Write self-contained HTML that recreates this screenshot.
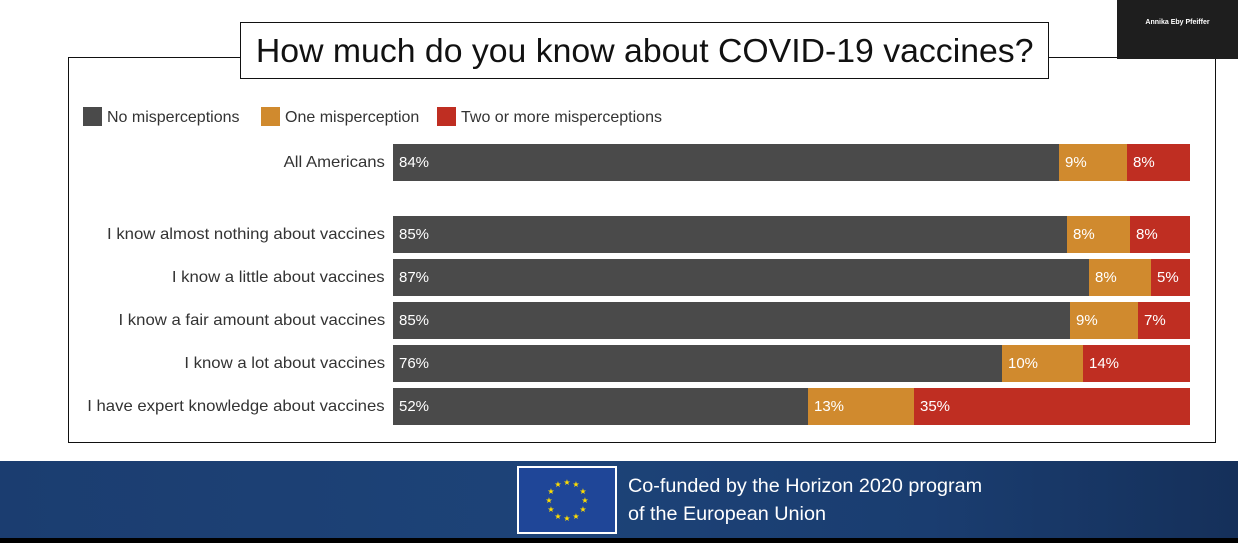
<!DOCTYPE html>
<html><head><style>
body{margin:0;width:1238px;height:543px;background:#fff;position:relative;overflow:hidden;font-family:"Liberation Sans",sans-serif}
.abs{position:absolute}
.frame{left:68px;top:57px;width:1148px;height:386px;border:1.5px solid #111;box-sizing:border-box}
.title{left:240px;top:22px;width:809px;height:57px;border:1.5px solid #111;background:#fff;box-sizing:border-box;font-size:33px;line-height:55px;text-align:center;color:#111}
.title span{display:inline-block;transform:scaleX(1.024)}
.cam{left:1117px;top:0;width:121px;height:59px;background:#1e1e1e;color:#fff;font-size:7px;font-weight:bold;text-align:center;line-height:46px}
.leg{top:107px;font-size:16px;color:#333;line-height:20px}
.sw{display:inline-block;width:19px;height:19px;vertical-align:-4px;margin-right:5px}
.lab{right:853px;font-size:16px;color:#333;text-align:right;white-space:nowrap;line-height:20px;transform:scaleX(1.045);transform-origin:right center}
.seg{height:37px;color:#fff;font-size:15px;line-height:37px;padding-left:6px;box-sizing:border-box}
.d{background:#4a4a4a}.o{background:#d08a2e}.r{background:#bf2e22}
.banner{left:0;top:461px;width:1238px;height:78px;background:linear-gradient(90deg,#1b3d70 0%,#1d4378 45%,#1a3d70 75%,#15305a 100%)}
.bot{left:0;top:538px;width:1238px;height:5px;background:#000}
.flag{left:517px;top:466px;width:100px;height:68px;border:2px solid #fff;background:#1f4698;box-sizing:border-box}
.ft{left:628px;top:472px;color:#fff;font-size:19.8px;line-height:28px}
</style></head><body>
<div class="abs frame"></div>
<div class="abs title"><span>How much do you know about COVID-19 vaccines?</span></div>
<div class="abs cam">Annika Eby Pfeiffer</div>
<div class="abs leg" style="left:83px"><span class="sw d"></span>No misperceptions</div>
<div class="abs leg" style="left:261px"><span class="sw o"></span>One misperception</div>
<div class="abs leg" style="left:437px"><span class="sw r"></span>Two or more misperceptions</div>

<div class="abs lab" style="top:153px">All Americans</div>
<div class="abs lab" style="top:225px">I know almost nothing about vaccines</div>
<div class="abs lab" style="top:268px">I know a little about vaccines</div>
<div class="abs lab" style="top:311px">I know a fair amount about vaccines</div>
<div class="abs lab" style="top:354px">I know a lot about vaccines</div>
<div class="abs lab" style="top:397px">I have expert knowledge about vaccines</div>

<div class="abs seg d" style="left:393px;top:144px;width:666px">84%</div><div class="abs seg o" style="left:1059px;top:144px;width:68px">9%</div><div class="abs seg r" style="left:1127px;top:144px;width:63px">8%</div>
<div class="abs seg d" style="left:393px;top:216px;width:674px">85%</div><div class="abs seg o" style="left:1067px;top:216px;width:63px">8%</div><div class="abs seg r" style="left:1130px;top:216px;width:60px">8%</div>
<div class="abs seg d" style="left:393px;top:259px;width:696px">87%</div><div class="abs seg o" style="left:1089px;top:259px;width:62px">8%</div><div class="abs seg r" style="left:1151px;top:259px;width:39px">5%</div>
<div class="abs seg d" style="left:393px;top:302px;width:677px">85%</div><div class="abs seg o" style="left:1070px;top:302px;width:68px">9%</div><div class="abs seg r" style="left:1138px;top:302px;width:52px">7%</div>
<div class="abs seg d" style="left:393px;top:345px;width:609px">76%</div><div class="abs seg o" style="left:1002px;top:345px;width:81px">10%</div><div class="abs seg r" style="left:1083px;top:345px;width:107px">14%</div>
<div class="abs seg d" style="left:393px;top:388px;width:415px">52%</div><div class="abs seg o" style="left:808px;top:388px;width:106px">13%</div><div class="abs seg r" style="left:914px;top:388px;width:276px">35%</div>

<div class="abs banner"></div>
<div class="abs bot"></div>
<div class="abs flag"><svg width="96" height="64" viewBox="0 0 96 64"><g fill="#ffdd00" font-size="8" text-anchor="middle"><text x="48" y="17">★</text><text x="57" y="19">★</text><text x="64" y="26">★</text><text x="66" y="35">★</text><text x="64" y="44">★</text><text x="57" y="51">★</text><text x="48" y="53">★</text><text x="39" y="51">★</text><text x="32" y="44">★</text><text x="30" y="35">★</text><text x="32" y="26">★</text><text x="39" y="19">★</text></g></svg></div>
<div class="abs ft">Co-funded by the Horizon 2020 program<br>of the European Union</div>
</body></html>
